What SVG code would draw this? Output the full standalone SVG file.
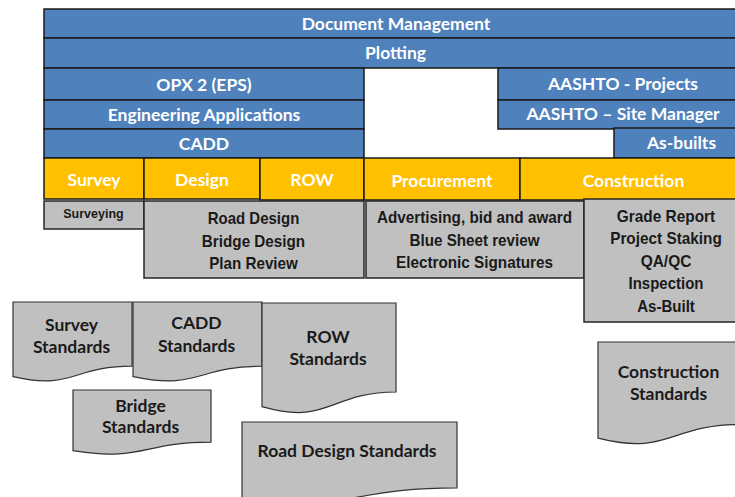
<svg xmlns="http://www.w3.org/2000/svg" width="735" height="497" viewBox="0 0 735 497">
<style>
.b{fill:#4F81BD;stroke:#1a1a1a;stroke-width:1.5}
.y{fill:#FFC000;stroke:#1a1a1a;stroke-width:1.5}
.g{fill:#C0C0C0;stroke:#262626;stroke-width:1.5}
.d{fill:#C0C0C0;stroke:#333;stroke-width:1.2}
.wt{font-family:Lato,"Open Sans",sans-serif;font-weight:bold;font-size:17.5px;fill:#fff;text-anchor:middle}
.at{font-family:"Liberation Sans",Arial,sans-serif;font-weight:bold;font-size:17px;fill:#1a1a1a;text-anchor:middle}
.st{font-family:Lato,"Open Sans",sans-serif;font-weight:bold;font-size:17.5px;fill:#1a1a1a;text-anchor:middle}
</style>
<rect width="735" height="497" fill="#fff"/>
<g id="document-management"><rect class="b" x="44" y="9" width="705" height="29"/><text class="wt" x="396" y="30">Document Management</text></g>
<g id="plotting"><rect class="b" x="44" y="38" width="705" height="30"/><text class="wt" x="395.5" y="59">Plotting</text></g>
<g id="opx"><rect class="b" x="44" y="68" width="320" height="32"/><text class="wt" x="204" y="90.5">OPX 2 (EPS)</text></g>
<g id="eng-apps"><rect class="b" x="44" y="100" width="320" height="29"/><text class="wt" x="204" y="120.5">Engineering Applications</text></g>
<g id="cadd"><rect class="b" x="44" y="129" width="320" height="29"/><text class="wt" x="204" y="149.5">CADD</text></g>
<g id="aashto-projects"><rect class="b" x="498" y="68" width="251" height="32"/><text class="wt" x="623" y="90">AASHTO - Projects</text></g>
<g id="aashto-site"><rect class="b" x="498" y="100" width="251" height="29"/><text class="wt" x="623" y="120">AASHTO – Site Manager</text></g>
<g id="as-builts"><rect class="b" x="614" y="128" width="135" height="30"/><text class="wt" x="681.5" y="148.5">As-builts</text></g>
<g id="survey"><rect class="y" x="44" y="158" width="100" height="41"/><text class="wt" x="94" y="186">Survey</text></g>
<g id="design"><rect class="y" x="144" y="158" width="116" height="41"/><text class="wt" x="202" y="186">Design</text></g>
<g id="row"><rect class="y" x="260" y="158" width="104" height="42"/><text class="wt" x="312" y="186">ROW</text></g>
<g id="procurement"><rect class="y" x="364" y="158" width="156" height="42"/><text class="wt" x="442" y="186.5">Procurement</text></g>
<g id="construction"><rect class="y" x="520" y="158" width="229" height="42"/><text class="wt" x="633.5" y="186.5">Construction</text></g>
<g id="surveying"><rect class="g" x="44" y="201" width="100" height="28"/><text class="at" style="font-size:12.5px" x="93.5" y="218.3">Surveying</text></g>
<g id="design-tasks"><rect class="g" x="144" y="201" width="220" height="77"/>
<text class="at" x="253.5" y="224" textLength="91.6" lengthAdjust="spacingAndGlyphs">Road Design</text>
<text class="at" x="253.5" y="246.7" textLength="103.3" lengthAdjust="spacingAndGlyphs">Bridge Design</text>
<text class="at" x="253.5" y="269" textLength="88.7" lengthAdjust="spacingAndGlyphs">Plan Review</text></g>
<g id="procurement-tasks"><rect class="g" x="366" y="201" width="218" height="77"/>
<text class="at" x="474.5" y="223.3" textLength="195" lengthAdjust="spacingAndGlyphs">Advertising, bid and award</text>
<text class="at" x="474.5" y="246" textLength="130" lengthAdjust="spacingAndGlyphs">Blue Sheet review</text>
<text class="at" x="474.5" y="268.3" textLength="157" lengthAdjust="spacingAndGlyphs">Electronic Signatures</text></g>
<g id="construction-tasks"><rect class="g" x="584" y="199" width="165" height="123"/>
<text class="at" x="666" y="221.7" textLength="98.3" lengthAdjust="spacingAndGlyphs">Grade Report</text>
<text class="at" x="666" y="244.3" textLength="111.7" lengthAdjust="spacingAndGlyphs">Project Staking</text>
<text class="at" x="666" y="266.7" textLength="50.7" lengthAdjust="spacingAndGlyphs">QA/QC</text>
<text class="at" x="666" y="289.3" textLength="75" lengthAdjust="spacingAndGlyphs">Inspection</text>
<text class="at" x="666" y="311.7" textLength="57.7" lengthAdjust="spacingAndGlyphs">As-Built</text></g>
<g id="survey-standards"><path class="d" d="M13,302 H132 V366.2 C72.5,366.2 72.5,390.6 13,376.7 Z"/><text class="st" x="71.5" y="330.7">Survey</text><text class="st" x="71.5" y="352.7">Standards</text></g>
<g id="cadd-standards"><path class="d" d="M133,302 H262 V366.2 C197.5,366.2 197.5,390.6 133,376.7 Z"/><text class="st" x="196.5" y="329">CADD</text><text class="st" x="196.5" y="352.3">Standards</text></g>
<g id="row-standards"><path class="d" d="M262,303 H396 V392 C329,392 329,425.9 262,406.7 Z"/><text class="st" x="328" y="343.3">ROW</text><text class="st" x="328" y="365">Standards</text></g>
<g id="bridge-standards"><path class="d" d="M73,390 H211 V442.1 C142,442.1 142,462 73,450.7 Z"/><text class="st" x="140.5" y="411.7">Bridge</text><text class="st" x="140.5" y="433.3">Standards</text></g>
<g id="road-design-standards"><path class="d" d="M242,422 H457 V487.8 C349.5,487.8 349.5,512.8 242,498.6 Z"/><text class="st" x="347" y="456.7">Road Design Standards</text></g>
<g id="construction-standards"><path class="d" d="M598,342 H740 V424.6 C669,424.6 669,456.1 598,438.2 Z"/><text class="st" x="668.5" y="378.3">Construction</text><text class="st" x="668.5" y="400">Standards</text></g>
<g id="connectors"></g>
</svg>
